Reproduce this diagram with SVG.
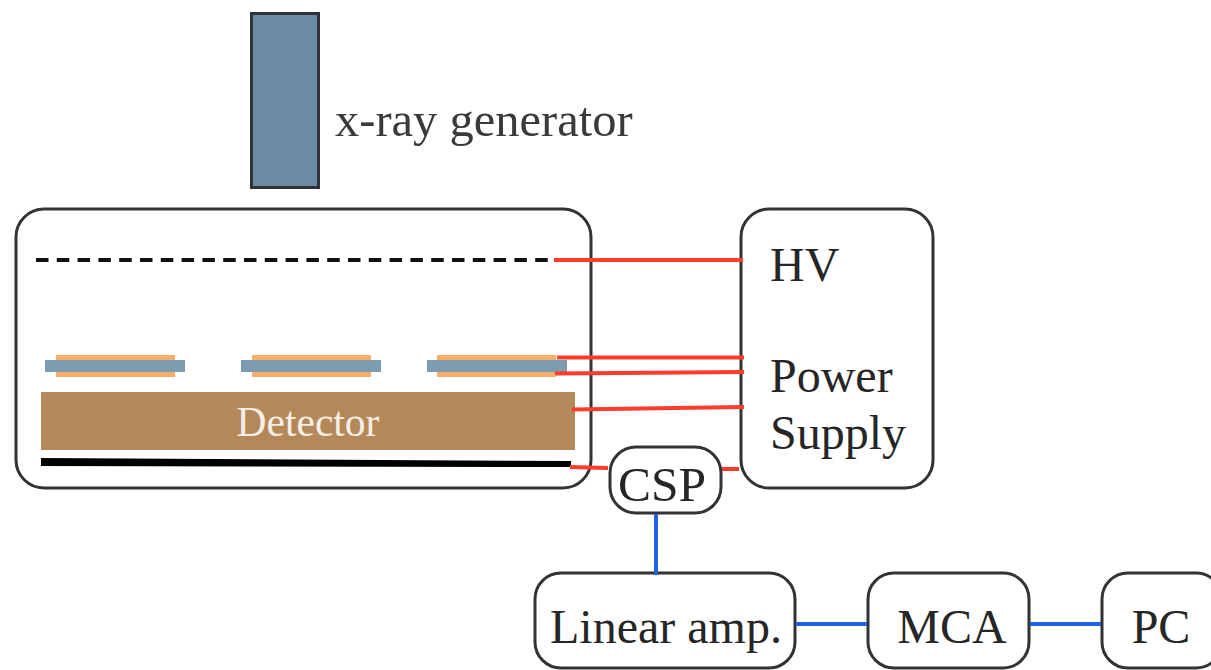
<svg xmlns="http://www.w3.org/2000/svg" width="1211" height="670" viewBox="0 0 1211 670">
<style>
text{font-family:"Liberation Serif","Times New Roman",serif;fill:#262626;font-size:48px}
.box{fill:#fff;stroke:#333;stroke-width:3}
.red{stroke:#ff3b2a;stroke-width:4;fill:none}
.blue{stroke:#1f62ee;stroke-width:4;fill:none}
.or{fill:#f9ad6b}
.bl{fill:#7c9cb2}
</style>
<rect width="1211" height="670" fill="#fff"/>
<g id="xray-generator"><rect x="251.500" y="13.500" width="67" height="174" fill="#6b8aa3" stroke="#2f3338" stroke-width="3"/><text x="335" y="136" style="font-size:48.500px;fill:#3a3a3a">x-ray generator</text></g>
<g id="chamber"><rect class="box" x="16" y="209" width="575" height="279" rx="28"/></g>
<g id="grid"><line x1="36" y1="260" x2="556" y2="260" stroke="#111" stroke-width="4" stroke-dasharray="12.500 8.300"/></g>
<g id="gem1"><rect class="or" x="56" y="355" width="119" height="22"/><rect class="bl" x="45" y="360" width="140" height="12"/></g>
<g id="gem2"><rect class="or" x="252" y="355" width="119" height="22"/><rect class="bl" x="241" y="360" width="140" height="12"/></g>
<g id="gem3"><rect class="or" x="437" y="355" width="119" height="22"/><rect class="bl" x="427" y="360" width="140" height="12"/></g>
<g id="detector"><rect x="41" y="392" width="534" height="58" fill="#b58859"/><text x="308" y="436" text-anchor="middle" style="fill:#f4eee6;font-size:41.500px">Detector</text></g>
<g id="cathode"><path d="M41 458L571 461V467L41 466Z" fill="#000"/></g>
<g id="power-supply"><rect class="box" x="741" y="209" width="192" height="279" rx="28"/><text x="770" y="281">HV</text><text x="770" y="392">Power</text><text x="770" y="449">Supply</text></g>
<g id="csp"><rect class="box" x="610" y="447" width="111" height="66" rx="26"/><text x="662" y="501" text-anchor="middle" style="font-size:49.500px">CSP</text></g>
<g id="linear-amp"><rect class="box" x="535" y="573" width="260" height="95" rx="26"/><text x="666" y="643" text-anchor="middle">Linear amp.</text></g>
<g id="mca"><rect class="box" x="868" y="573" width="161" height="95" rx="26"/><text x="952" y="643" text-anchor="middle">MCA</text></g>
<g id="pc"><rect class="box" x="1102" y="573" width="120" height="95" rx="26"/><text x="1161" y="643" text-anchor="middle">PC</text></g>
<g id="connectors">
<path class="red" d="M554 260H743"/>
<path class="red" d="M557 357.500H744"/>
<path class="red" d="M555 373.500L744 372"/>
<path class="red" d="M572 409.500L744 407"/>
<path class="red" d="M570 467L608 468"/>
<path class="red" d="M722 469H739"/>
<path class="blue" d="M656 514V575"/>
<path class="blue" d="M796 624H867"/>
<path class="blue" d="M1030 624H1101"/>
</g>
</svg>
